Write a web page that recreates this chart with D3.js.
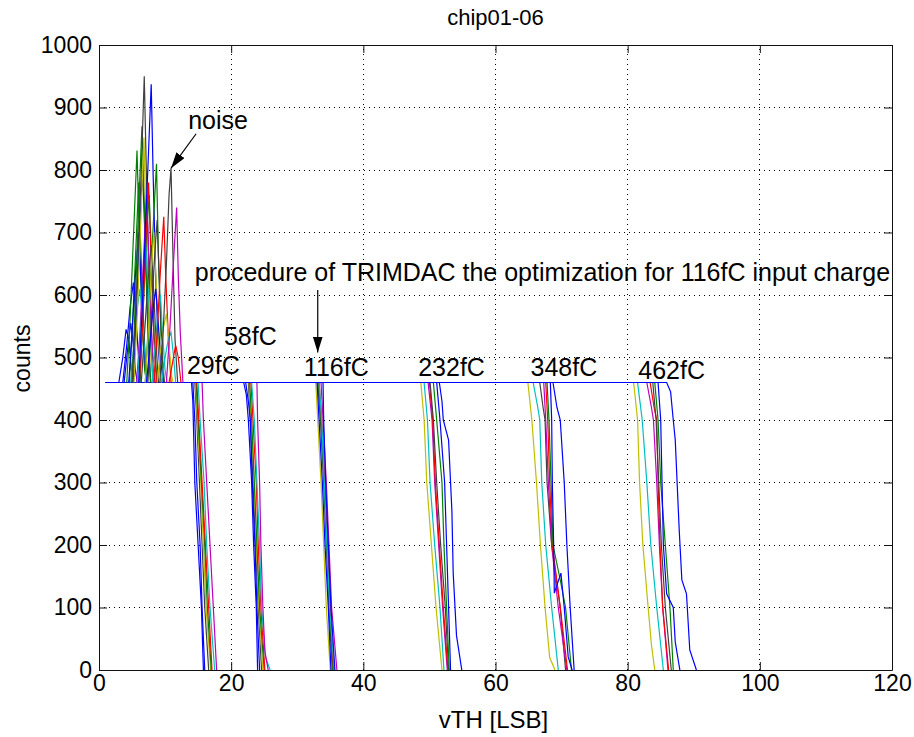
<!DOCTYPE html>
<html>
<head>
<meta charset="utf-8">
<script src="https://cdn.jsdelivr.net/npm/d3@7"></script>
<style>
  body { margin: 0; background: #fff; }
  text { font-family: "Liberation Sans", Arial, sans-serif; fill: #000; }
</style>
</head>
<body>
<svg id="chart"></svg>
<script>
// axis ticks
const xTicks = [0, 20, 40, 60, 80, 100, 120];
const yTicks = [0, 100, 200, 300, 400, 500, 600, 700, 800, 900, 1000];

// old matlab colour order
const lineColors = {
  b: "#0000ff", g: "#008000", r: "#ff0000", c: "#00bfbf",
  m: "#bf00bf", y: "#bfbf00", k: "#404040"
};

// every scan starts flat at the injected pulse count
const plateauStart = 1;
const plateauCount = 460;

// noise hits at low threshold, [colour, [vTH, counts]...]
const noiseCurves = [
  ["b", [[3.0,460],[3.6,500],[4.1,545],[4.5,530],[4.9,480],[5.2,460]]],
  ["b", [[3.8,460],[4.3,510],[4.8,555],[5.1,530],[5.5,480],[5.8,460]]],
  ["b", [[3.6,460],[4.2,520],[4.7,580],[5.2,620],[5.6,560],[6.0,500],[6.4,460]]],
  ["g", [[4.2,460],[4.7,560],[5.2,690],[5.75,831],[6.1,700],[6.5,570],[6.9,480],[7.2,460]]],
  ["g", [[4.6,460],[5.1,560],[5.6,680],[6.0,780],[6.4,650],[6.8,540],[7.2,460]]],
  ["b", [[4.5,460],[5.0,540],[5.5,630],[6.0,700],[6.4,610],[6.8,520],[7.2,460]]],
  ["c", [[4.8,460],[5.3,520],[5.8,580],[6.2,610],[6.6,560],[7.0,500],[7.3,460]]],
  ["b", [[5.2,460],[5.7,580],[6.2,720],[6.6,800],[7.0,680],[7.4,540],[7.8,460]]],
  ["g", [[5.0,460],[5.5,590],[6.0,740],[6.5,870],[6.9,730],[7.3,580],[7.8,460]]],
  ["k", [[5.0,460],[5.5,560],[5.9,660],[6.4,800],[6.85,950],[7.2,780],[7.6,620],[8.1,500],[8.5,460]]],
  ["y", [[5.3,460],[5.8,570],[6.3,710],[6.8,852],[7.1,720],[7.5,580],[7.9,490],[8.2,460]]],
  ["m", [[5.7,460],[6.2,540],[6.7,650],[7.2,760],[7.6,640],[8.0,530],[8.4,460]]],
  ["c", [[5.8,460],[6.3,540],[6.7,620],[7.1,680],[7.5,600],[7.9,510],[8.2,460]]],
  ["g", [[6.2,460],[6.7,580],[7.2,700],[7.6,760],[8.0,640],[8.4,520],[8.8,460]]],
  ["r", [[6.1,460],[6.6,550],[7.0,670],[7.5,780],[7.9,650],[8.3,530],[8.7,460]]],
  ["b", [[6.0,460],[6.5,570],[7.0,700],[7.5,830],[7.9,937],[8.2,790],[8.6,620],[9.0,510],[9.4,460]]],
  ["k", [[6.4,460],[6.9,540],[7.4,620],[7.9,680],[8.3,600],[8.7,510],[9.0,460]]],
  ["g", [[7.0,460],[7.5,560],[8.1,690],[8.7,810],[9.0,660],[9.4,530],[9.8,460]]],
  ["y", [[7.0,460],[7.5,550],[7.9,640],[8.3,700],[8.7,610],[9.1,510],[9.4,460]]],
  ["k", [[7.4,460],[7.9,560],[8.4,660],[8.8,720],[9.2,600],[9.6,500],[9.9,460]]],
  ["b", [[7.2,460],[7.7,520],[8.2,580],[8.6,610],[9.0,550],[9.4,490],[9.7,460]]],
  ["c", [[8.0,460],[8.5,520],[9.0,580],[9.3,600],[9.6,540],[10.0,480],[10.3,460]]],
  ["r", [[8.3,460],[8.8,540],[9.3,640],[9.8,725],[10.1,630],[10.5,530],[10.9,460]]],
  ["y", [[8.8,460],[9.3,510],[9.8,550],[10.2,570],[10.6,520],[11.0,470],[11.2,460]]],
  ["k", [[9.2,460],[9.7,540],[10.2,650],[10.6,760],[10.9,803],[11.2,660],[11.5,530],[11.9,460]]],
  ["c", [[9.5,460],[10.0,500],[10.5,530],[10.9,540],[11.3,500],[11.6,460]]],
  ["m", [[10.2,460],[10.7,540],[11.2,640],[11.75,740],[12.0,630],[12.3,540],[12.7,460]]],
  ["r", [[10.6,460],[11.1,490],[11.6,520],[12.0,500],[12.4,460]]]
];

// falling edges, one list per input charge
const drop29 = [
  ["b", [[14.0,460],[14.2,430],[14.5,300],[15.0,200],[15.5,100],[15.8,0]]],
  ["k", [[14.5,460],[14.8,400],[15.2,300],[15.6,200],[16.0,100],[16.6,0]]],
  ["y", [[14.6,460],[14.9,400],[15.4,300],[15.8,200],[16.2,100],[16.9,0]]],
  ["g", [[14.7,460],[15.0,400],[15.5,300],[16.0,200],[16.4,100],[17.0,0]]],
  ["r", [[14.8,460],[15.1,400],[15.6,300],[16.1,200],[16.6,100],[17.1,0]]],
  ["c", [[15.0,460],[15.3,400],[15.9,300],[16.3,200],[16.8,100],[17.5,0]]],
  ["m", [[15.6,460],[15.8,400],[16.3,300],[16.8,200],[17.3,100],[17.8,0]]],
  ["b", [[14.2,460],[14.5,400],[14.8,300],[15.3,200],[15.6,100],[16.0,0]]]
];
const drop58 = [
  ["k", [[22.6,460],[22.9,400],[23.3,300],[23.7,200],[24.1,100],[24.6,0]]],
  ["y", [[22.7,460],[23.0,400],[23.5,300],[23.8,200],[24.2,100],[24.8,0]]],
  ["g", [[22.8,460],[23.1,400],[23.5,300],[23.9,200],[24.3,100],[25.0,0]]],
  ["r", [[23.0,460],[23.3,400],[23.8,300],[24.1,200],[24.5,100],[25.1,0]]],
  ["c", [[23.1,460],[23.5,400],[23.9,300],[24.3,200],[24.6,100],[25.2,20],[25.9,0]]],
  ["m", [[23.9,460],[24.0,400],[24.3,300],[24.5,200],[24.8,100],[25.1,30],[25.6,0]]],
  ["b", [[21.9,460],[22.3,440],[22.6,400],[23.1,300],[23.4,200],[23.8,100],[24.0,0]]],
  ["b", [[22.2,460],[22.6,430],[22.9,400],[23.2,300],[23.6,200],[23.9,100],[24.3,0]]]
];
const drop116 = [
  ["y", [[32.8,460],[33.1,400],[33.6,300],[34.0,200],[34.4,100],[35.0,0]]],
  ["k", [[33.1,460],[33.5,400],[34.0,300],[34.4,200],[34.8,100],[35.3,0]]],
  ["g", [[33.2,460],[33.6,400],[34.1,300],[34.5,200],[34.9,100],[35.4,0]]],
  ["r", [[33.3,460],[33.7,400],[34.2,300],[34.6,200],[35.0,100],[35.5,0]]],
  ["c", [[33.3,460],[33.7,400],[34.1,300],[34.5,200],[34.9,100],[35.6,0]]],
  ["m", [[33.6,460],[33.9,400],[34.4,300],[34.8,200],[35.2,100],[36.0,0]]],
  ["b", [[33.0,460],[33.3,400],[33.8,300],[34.2,200],[34.7,100],[35.1,0]]],
  ["b", [[33.9,460],[34.0,400],[34.3,300],[34.7,200],[35.1,100],[35.7,0]]]
];
const drop232 = [
  ["y", [[48.7,460],[49.2,400],[49.6,300],[50.3,200],[51.0,100],[51.9,0]]],
  ["c", [[49.2,460],[49.7,400],[50.1,300],[50.8,200],[51.6,100],[52.2,0]]],
  ["m", [[49.8,460],[50.4,400],[50.8,300],[51.4,200],[52.0,100],[52.7,0]]],
  ["r", [[50.0,460],[50.5,400],[50.9,300],[51.5,200],[52.1,100],[52.8,0]]],
  ["k", [[50.1,460],[50.6,400],[51.1,300],[51.7,200],[52.4,100],[52.9,0]]],
  ["g", [[50.6,460],[51.1,400],[51.9,300],[52.2,200],[52.6,100],[53.0,0]]],
  ["b", [[51.1,460],[51.6,400],[52.3,300],[52.6,200],[52.9,100],[53.2,0]]],
  ["b", [[51.5,460],[51.9,430],[52.1,400],[52.9,368],[53.4,255],[53.6,155],[54.1,55],[54.9,0]]]
];
const drop348 = [
  ["y", [[64.9,460],[65.5,400],[66.2,300],[66.8,200],[67.5,100],[68.2,20],[69.0,0]]],
  ["c", [[65.7,460],[66.4,420],[66.7,400],[67.0,300],[67.6,200],[68.5,100],[69.5,0]]],
  ["k", [[66.7,460],[67.2,420],[67.5,400],[67.8,300],[68.5,200],[69.8,100],[70.6,0]]],
  ["m", [[67.3,460],[67.6,400],[68.0,300],[68.5,200],[69.5,100],[70.8,0]]],
  ["r", [[67.6,460],[67.9,400],[68.2,300],[68.6,200],[69.8,100],[70.9,0]]],
  ["g", [[67.8,460],[68.1,400],[68.4,300],[68.7,200],[69.8,144],[70.6,100],[71.5,0]]],
  ["b", [[68.3,460],[68.5,400],[68.6,300],[68.8,200],[68.9,123],[69.9,155],[70.4,100],[71.0,21],[71.6,0]]],
  ["b", [[68.7,460],[69.3,420],[69.8,400],[70.4,300],[70.8,200],[71.3,100],[71.9,0]]]
];
const drop462 = [
  ["y", [[80.9,460],[81.5,400],[81.8,300],[82.3,200],[83.1,100],[83.6,40],[84.1,0]]],
  ["c", [[81.5,460],[82.2,400],[82.9,300],[83.5,200],[84.4,100],[85.4,0]]],
  ["m", [[82.9,460],[83.6,420],[83.9,400],[84.4,300],[84.8,200],[85.3,100],[86.1,0]]],
  ["r", [[83.4,460],[84.0,420],[84.4,400],[84.6,300],[84.9,200],[85.3,100],[86.2,0]]],
  ["k", [[83.8,460],[84.3,400],[84.7,300],[85.1,200],[85.7,100],[86.6,0]]],
  ["g", [[84.1,460],[84.6,400],[85.0,300],[85.7,200],[86.4,100],[86.9,0]]],
  ["b", [[84.6,460],[85.0,400],[85.2,300],[85.4,200],[85.9,122],[86.9,100],[87.2,45],[87.9,0]]],
  ["b", [[85.9,460],[86.5,445],[86.9,400],[87.2,368],[87.8,224],[88.2,144],[88.9,122],[89.4,32],[90.4,0]]]
];

// text annotations in data units: [text, vTH, counts]
const chargeLabels = [
  ["29fC", 13.3, 473],
  ["58fC", 18.9, 520],
  ["116fC", 31.0, 470],
  ["232fC", 48.3, 470],
  ["348fC", 65.3, 470],
  ["462fC", 81.6, 465]
];
const noteLabels = [
  ["noise", 13.5, 866],
  ["procedure of TRIMDAC the optimization for 116fC input charge", 14.5, 623]
];
// arrows: [fromX, fromY, toX, toY]
const arrows = [
  [14.7, 858, 10.9, 803],
  [33.1, 608, 33.1, 508]
];

function getConfig() {
  let width = 914;
  let height = 737;
  let margin = { top: 45, bottom: 67, left: 99, right: 22 };
  let bodyWidth = width - margin.left - margin.right;
  let bodyHeight = height - margin.top - margin.bottom;
  let container = d3.select("#chart")
    .attr("width", width)
    .attr("height", height);
  return { width, height, margin, bodyWidth, bodyHeight, container };
}

function getScales(config) {
  let { margin, bodyWidth, bodyHeight } = config;
  let xScale = d3.scaleLinear()
    .domain([0, 120])
    .range([margin.left, margin.left + bodyWidth]);
  let yScale = d3.scaleLinear()
    .domain([0, 1000])
    .range([margin.top + bodyHeight, margin.top]);
  return { xScale, yScale };
}

function drawGrid(scales, config) {
  let { container } = config;
  let { xScale, yScale } = scales;
  let grid = container.append("g").attr("class", "grid")
    .attr("stroke", "#000").attr("stroke-dasharray", "1,4")
    .attr("shape-rendering", "crispEdges");
  grid.selectAll(".gx").data(xTicks.slice(1, -1)).enter()
    .append("line")
    .attr("x1", d => xScale(d)).attr("x2", d => xScale(d))
    .attr("y1", yScale(0)).attr("y2", yScale(1000));
  grid.selectAll(".gy").data(yTicks.slice(1, -1)).enter()
    .append("line")
    .attr("y1", d => yScale(d)).attr("y2", d => yScale(d))
    .attr("x1", xScale(0)).attr("x2", xScale(120));
}

function drawCurves(scales, config) {
  let { container, margin, bodyWidth, bodyHeight } = config;
  let { xScale, yScale } = scales;

  container.append("clipPath").attr("id", "plotClip")
    .append("rect")
    .attr("x", margin.left).attr("y", margin.top)
    .attr("width", bodyWidth).attr("height", bodyHeight);

  let line = d3.line()
    .x(d => xScale(d[0]))
    .y(d => yScale(d[1]));

  let g = container.append("g").attr("clip-path", "url(#plotClip)")
    .attr("fill", "none").attr("stroke-width", 1.2);

  let drops = [].concat(drop29, drop58, drop116, drop232, drop348, drop462);
  // flat part first from x=1, then the edge
  g.selectAll(".drop").data(drops).enter()
    .append("path")
    .attr("d", d => line([[plateauStart, plateauCount]].concat(d[1])))
    .attr("stroke", d => lineColors[d[0]]);

  g.selectAll(".noise").data(noiseCurves).enter()
    .append("path")
    .attr("d", d => line(d[1]))
    .attr("stroke", d => lineColors[d[0]]);
}

function drawAxes(scales, config) {
  let { container } = config;
  let { xScale, yScale } = scales;
  let font = "\"Liberation Sans\", Arial, sans-serif";

  let bottom = container.append("g")
    .attr("transform", `translate(0,${yScale(0)})`)
    .call(d3.axisBottom(xScale).tickValues(xTicks).tickFormat(d3.format("d"))
      .tickSize(-8).tickSizeOuter(0).tickPadding(5));
  let left = container.append("g")
    .attr("transform", `translate(${xScale(0)},0)`)
    .call(d3.axisLeft(yScale).tickValues(yTicks).tickFormat(d3.format("d"))
      .tickSize(-8).tickSizeOuter(0).tickPadding(7));
  let top = container.append("g")
    .attr("transform", `translate(0,${yScale(1000)})`)
    .call(d3.axisTop(xScale).tickValues(xTicks).tickSize(-8).tickSizeOuter(0).tickFormat(""));
  let right = container.append("g")
    .attr("transform", `translate(${xScale(120)},0)`)
    .call(d3.axisRight(yScale).tickValues(yTicks).tickSize(-8).tickSizeOuter(0).tickFormat(""));

  [bottom, left, top, right].forEach(a => {
    a.attr("font-size", 23).attr("font-family", font);
    a.selectAll("path, line").attr("stroke", "#111");
  });
}

function drawLabels(scales, config) {
  let { container, margin, bodyWidth, bodyHeight } = config;
  let { xScale, yScale } = scales;

  container.append("text")
    .attr("x", margin.left + bodyWidth / 2).attr("y", 25)
    .attr("text-anchor", "middle").attr("font-size", 22)
    .text("chip01-06");
  container.append("text")
    .attr("x", margin.left + bodyWidth / 2 - 2).attr("y", 728)
    .attr("text-anchor", "middle").attr("font-size", 24)
    .text("vTH [LSB]");
  container.append("text")
    .attr("transform", `translate(30,${margin.top + bodyHeight / 2 + 1}) rotate(-90)`)
    .attr("text-anchor", "middle").attr("font-size", 23)
    .text("counts");

  container.selectAll(".charge").data(chargeLabels.concat(noteLabels)).enter()
    .append("text")
    .attr("x", d => xScale(d[1])).attr("y", d => yScale(d[2]))
    .attr("font-size", 25)
    .text(d => d[0]);

  container.append("defs").append("marker")
    .attr("id", "head")
    .attr("markerUnits", "userSpaceOnUse")
    .attr("viewBox", "0 0 16 10")
    .attr("refX", 16).attr("refY", 5)
    .attr("markerWidth", 16).attr("markerHeight", 10)
    .attr("orient", "auto")
    .append("path").attr("d", "M0,0 L16,5 L0,10 Z").attr("fill", "#000");

  container.selectAll(".arrow").data(arrows).enter()
    .append("line")
    .attr("x1", d => xScale(d[0])).attr("y1", d => yScale(d[1]))
    .attr("x2", d => xScale(d[2])).attr("y2", d => yScale(d[3]))
    .attr("stroke", "#000").attr("stroke-width", 1.2)
    .attr("marker-end", "url(#head)");
}

function showChart() {
  let config = getConfig();
  let scales = getScales(config);
  drawGrid(scales, config);
  drawCurves(scales, config);
  drawAxes(scales, config);
  drawLabels(scales, config);
}

showChart();
</script>
</body>
</html>
